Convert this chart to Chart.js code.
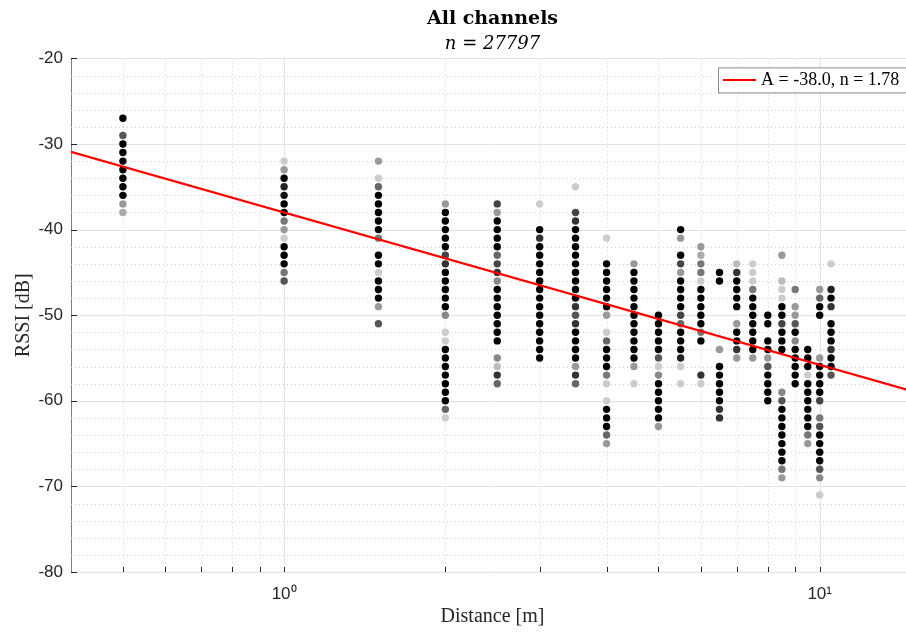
<!DOCTYPE html>
<html>
<head>
<meta charset="utf-8">
<script src="https://cdn.jsdelivr.net/npm/chart.js@4.4.0/dist/chart.umd.min.js"></script>
<style>
  html, body { margin: 0; padding: 0; background: #fff; overflow: hidden; }
  #wrap { width: 930px; height: 633px; }
</style>
</head>
<body>
<div id="wrap"><canvas id="rssiChart" width="930" height="633"></canvas></div>
<script>
// fitted path loss model: RSSI = A - 10 n log10(d)
const fitA = -38.0;
const fitN = 1.78;
const sampleCount = 27797;

// axis limits and ticks
const xMin = 0.4, xMax = 15;
const yMin = -80, yMax = -20;
const yTicks = [-80, -70, -60, -50, -40, -30, -20];
const xMajor = [1, 10];
const xMinor = [0.5, 0.6, 0.7, 0.8, 0.9, 2, 3, 4, 5, 6, 7, 8, 9];

const distances = [0.5, 1, 1.5, 2, 2.5, 3, 3.5, 4, 4.5, 5, 5.5, 6, 6.5, 7, 7.5, 8, 8.5, 9, 9.5, 10, 10.5];

// rssi levels seen at each distance
const rssi = [
  [-27,-29,-30,-31,-32,-33,-34,-35,-36,-37,-38],
  [-32,-33,-34,-35,-36,-37,-38,-39,-40,-41,-42,-43,-44,-45,-46],
  [-32,-34,-35,-36,-37,-38,-39,-40,-41,-43,-44,-45,-46,-47,-48,-49,-51],
  [-37,-38,-39,-40,-41,-42,-43,-44,-45,-46,-47,-48,-49,-50,-52,-53,-54,-55,-56,-57,-58,-59,-60,-61,-62],
  [-37,-38,-39,-40,-41,-42,-43,-44,-45,-46,-47,-48,-49,-50,-51,-52,-53,-55,-56,-57,-58],
  [-37,-40,-41,-42,-43,-44,-45,-46,-47,-48,-49,-50,-51,-52,-53,-54,-55],
  [-35,-38,-39,-40,-41,-42,-43,-44,-45,-46,-47,-48,-49,-50,-51,-52,-53,-54,-55,-56,-57,-58],
  [-41,-44,-45,-46,-47,-48,-49,-50,-52,-53,-54,-55,-56,-57,-58,-60,-61,-62,-63,-64,-65],
  [-44,-45,-46,-47,-48,-49,-50,-51,-52,-53,-54,-55,-56,-58],
  [-50,-51,-52,-53,-54,-55,-56,-57,-58,-59,-60,-61,-62,-63],
  [-40,-41,-43,-44,-45,-46,-47,-48,-49,-50,-51,-52,-53,-54,-55,-56,-58],
  [-42,-43,-44,-45,-46,-47,-48,-49,-50,-51,-52,-53,-57,-58],
  [-45,-46,-54,-56,-57,-58,-59,-60,-61,-62],
  [-44,-45,-46,-47,-48,-49,-51,-52,-53,-54,-55],
  [-44,-45,-46,-47,-48,-49,-50,-51,-52,-53,-54,-55],
  [-50,-51,-53,-54,-55,-56,-57,-58,-59,-60],
  [-43,-46,-47,-48,-49,-50,-51,-52,-53,-54,-59,-60,-61,-62,-63,-64,-65,-66,-67,-68,-69],
  [-47,-49,-50,-51,-52,-53,-54,-55,-56,-57,-58],
  [-54,-55,-56,-57,-58,-59,-60,-61,-62,-63,-64,-65],
  [-47,-48,-49,-50,-55,-56,-57,-58,-59,-60,-62,-63,-64,-65,-66,-67,-68,-69,-71],
  [-44,-47,-48,-49,-51,-52,-53,-54,-55,-56,-57]
];

// gray level of each dot (0 = black, many samples)
const gray = [
  [0,85,0,0,0,0,0,0,0,153,170],
  [204,153,0,34,17,0,0,119,153,204,0,0,0,119,85],
  [153,204,102,0,0,0,0,0,119,0,0,204,0,0,0,153,85],
  [153,0,0,0,0,0,68,51,0,0,0,0,0,136,204,204,0,0,0,0,0,0,0,102,204],
  [68,153,0,0,0,0,102,68,51,136,0,0,0,0,0,0,0,136,187,51,102],
  [204,0,51,0,0,0,0,0,0,0,0,0,0,0,0,0,0],
  [204,68,51,0,0,0,0,0,0,0,0,0,51,85,51,0,0,0,0,153,51,102],
  [204,0,0,0,0,0,0,153,204,102,0,0,0,119,204,204,0,0,0,102,153],
  [153,0,0,0,0,0,0,0,0,0,0,0,153,204],
  [0,0,0,0,0,85,204,136,0,0,0,0,0,153],
  [0,153,0,68,153,0,0,0,0,68,102,0,0,0,34,204,204],
  [153,170,119,119,204,0,0,0,0,0,119,0,51,204],
  [0,0,153,0,0,0,0,0,51,51],
  [187,51,0,0,0,0,153,0,0,51,153],
  [204,204,204,119,0,0,0,0,0,0,0,153],
  [0,0,0,0,153,85,0,0,0,0],
  [153,187,204,204,0,0,68,0,0,0,136,85,0,0,0,0,0,0,0,119,153],
  [119,153,153,85,0,136,0,0,0,0,0],
  [0,0,0,204,0,0,0,0,0,0,119,153],
  [153,102,0,0,153,0,0,0,0,68,119,85,0,0,0,0,85,136,204],
  [204,34,0,51,0,0,0,51,0,0,85]
];

var dots = [];
var dotColors = [];
for (var i = 0; i < distances.length; i++) {
  for (var j = 0; j < rssi[i].length; j++) {
    dots.push({ x: distances[i], y: rssi[i][j] });
    var g = gray[i][j];
    dotColors.push('rgb(' + g + ',' + g + ',' + g + ')');
  }
}

const fitLine = [xMin, xMax].map(d => ({ x: d, y: fitA - 10 * fitN * Math.log10(d) }));
const legendLabel = 'A = ' + fitA.toFixed(1) + ', n = ' + fitN.toFixed(2);

// matlab style grid, inner tick marks and boxed legend
const matlabLook = {
  id: 'matlabLook',
  beforeDatasetsDraw(chart) {
    const { ctx, chartArea: a, scales: { x, y } } = chart;
    const hline = (v) => { const p = Math.round(y.getPixelForValue(v)) + 0.5; ctx.beginPath(); ctx.moveTo(a.left, p); ctx.lineTo(a.right, p); ctx.stroke(); };
    const vline = (v) => { const p = Math.round(x.getPixelForValue(v)) + 0.5; ctx.beginPath(); ctx.moveTo(p, a.top); ctx.lineTo(p, a.bottom); ctx.stroke(); };
    ctx.save();
    ctx.lineWidth = 1;
    ctx.setLineDash([1, 3]);
    ctx.strokeStyle = '#cfcfcf';
    for (let v = yMin + 2; v < yMax + 1; v += 2) {
      if (v % 10 !== 0) hline(v);
    }
    xMinor.forEach(vline);
    ctx.setLineDash([]);
    ctx.strokeStyle = '#e3e3e3';
    yTicks.forEach(hline);
    xMajor.forEach(vline);
    ctx.restore();
  },
  afterDraw(chart) {
    const { ctx, chartArea: a, scales: { x, y } } = chart;
    ctx.save();
    ctx.strokeStyle = '#262626';
    ctx.lineWidth = 1;
    yTicks.forEach(v => {
      const p = Math.round(y.getPixelForValue(v)) + 0.5;
      ctx.beginPath(); ctx.moveTo(a.left, p); ctx.lineTo(a.left + 6, p); ctx.stroke();
    });
    xMajor.concat(xMinor).forEach(v => {
      const p = Math.round(x.getPixelForValue(v)) + 0.5;
      ctx.beginPath(); ctx.moveTo(p, a.bottom); ctx.lineTo(p, a.bottom - 5); ctx.stroke();
    });
    // legend box
    const lx = a.right - 196, ly = a.top + 9;
    ctx.fillStyle = '#fff';
    ctx.fillRect(lx, ly, 200, 25);
    ctx.strokeStyle = '#8c8c8c';
    ctx.strokeRect(lx + 0.5, ly + 0.5, 200, 25);
    ctx.strokeStyle = '#ff0000';
    ctx.lineWidth = 2;
    ctx.beginPath(); ctx.moveTo(lx + 5, ly + 12.5); ctx.lineTo(lx + 38, ly + 12.5); ctx.stroke();
    ctx.fillStyle = '#000';
    ctx.font = '18px "Liberation Serif"';
    ctx.textBaseline = 'middle';
    ctx.fillText(legendLabel, lx + 43, ly + 13);
    ctx.restore();
  }
};

const ctx = document.getElementById('rssiChart').getContext('2d');
const myChart = new Chart(ctx, {
  type: 'scatter',
  data: {
    datasets: [
      {
        type: 'line',
        label: legendLabel,
        data: fitLine,
        borderColor: '#ff0000',
        borderWidth: 2.2,
        pointRadius: 0,
        fill: false,
        order: 0
      },
      {
        label: 'RSSI',
        data: dots,
        backgroundColor: dotColors,
        pointBackgroundColor: dotColors,
        pointBorderWidth: 0,
        pointRadius: 3.7,
        order: 1
      }
    ]
  },
  options: {
    responsive: false,
    animation: false,
    devicePixelRatio: 1,
    layout: { padding: { left: 0, right: 16, top: 0, bottom: 0 } },
    plugins: {
      legend: { display: false },
      tooltip: { enabled: false },
      title: {
        display: true,
        text: 'All channels',
        fullSize: false,
        color: '#000',
        font: { family: '"DejaVu Serif"', size: 19, weight: 'bold', lineHeight: 1.2 },
        padding: { top: 8, bottom: 3 }
      },
      subtitle: {
        display: true,
        text: 'n = ' + sampleCount,
        fullSize: false,
        color: '#000',
        font: { family: '"DejaVu Serif"', size: 18, style: 'italic', lineHeight: 1.2 },
        padding: { top: 0, bottom: 3 }
      }
    },
    scales: {
      x: {
        type: 'logarithmic',
        min: xMin,
        max: xMax,
        afterBuildTicks: (s) => { s.ticks = xMajor.map(v => ({ value: v })); },
        afterFit: (s) => { s.height = 61; },
        grid: { display: false, drawTicks: false },
        border: { display: true, color: '#808080', width: 1 },
        ticks: {
          autoSkip: false,
          maxRotation: 0,
          padding: 12,
          color: '#262626',
          font: { family: '"Liberation Sans"', size: 17 },
          callback: (v) => v === 1 ? '10\u2070' : '10\u00b9'
        },
        title: {
          display: true,
          text: 'Distance [m]',
          color: '#262626',
          font: { family: '"Liberation Serif"', size: 20 },
          padding: { top: 0, bottom: 4 }
        }
      },
      y: {
        min: yMin,
        max: yMax,
        afterBuildTicks: (s) => { s.ticks = yTicks.map(v => ({ value: v })); },
        afterFit: (s) => { s.width = 71; },
        grid: { display: false, drawTicks: false },
        border: { display: true, color: '#808080', width: 1 },
        ticks: {
          padding: 8,
          color: '#262626',
          font: { family: '"Liberation Sans"', size: 17 }
        },
        title: {
          display: true,
          text: 'RSSI [dB]',
          color: '#262626',
          font: { family: '"Liberation Serif"', size: 20 },
          padding: { top: 12, bottom: 0 }
        }
      }
    }
  },
  plugins: [matlabLook]
});
</script>
</body>
</html>
